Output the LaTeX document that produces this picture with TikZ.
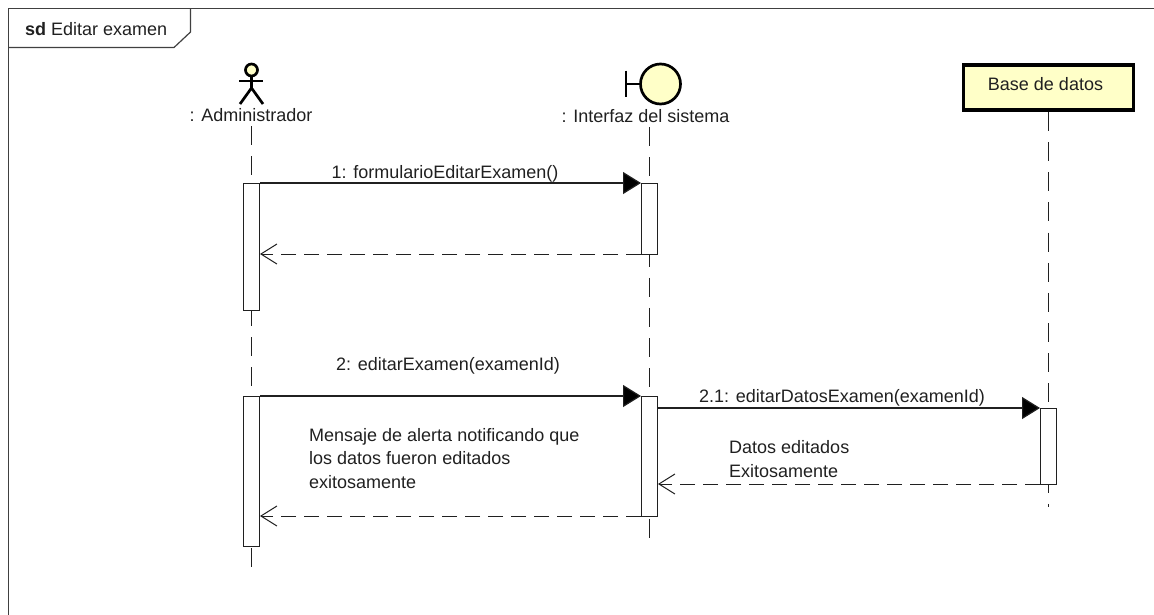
\documentclass[tikz,border=0pt]{standalone}
\usepackage{fontspec}
\setmainfont{Liberation Sans}
\usetikzlibrary{arrows.meta}
\definecolor{ifacecol}{HTML}{FFFFC8}
\definecolor{inkcol}{HTML}{202020}
\definecolor{framecol}{HTML}{404040}
\tikzset{
 lifeline/.style={draw=inkcol,dash pattern=on 19pt off 11.15pt,line width=1pt},
 actbar/.style={draw=inkcol,fill=white,line width=1pt,minimum width=16pt,inner sep=0pt},
 msg/.style={draw=inkcol,line width=1.2pt,-{Triangle[length=18pt,width=22pt,fill=black]}},
 ret/.style={draw=inkcol,line width=1pt,dash pattern=on 15pt off 8pt,-{Straight Barb[length=16pt,width=20pt,line width=1pt]}},
 txt/.style={font=\fontsize{18}{22}\selectfont,inner sep=0pt,text=inkcol},
 multi/.style={font=\fontsize{18}{23.7}\selectfont,inner sep=0pt,text=inkcol,align=left,anchor=north west},
 figline/.style={draw=black,line width=2.7pt},
 frameline/.style={draw=framecol,line width=1.2pt},
}
\begin{document}
\begin{tikzpicture}[x=1pt,y=-1pt]
\useasboundingbox (0,0) rectangle (1154,614);
\draw[frameline] (8.5,8.5) rectangle (1160,620);
\draw[frameline] (8.5,47.5)--(174,47.5)--(190.5,32)--(190.5,8.5);
\node[txt,anchor=west] (ttl) at (25,29.5) {\textbf{sd} Editar examen};
% lifelines
\coordinate (a0) at (251,126); \coordinate (a1) at (251,567);
\coordinate (b0) at (649,127); \coordinate (b1) at (649,538);
\coordinate (c0) at (1048,112); \coordinate (c1) at (1048,507);
\draw[lifeline] (a0)--(a1);
\draw[lifeline] (b0)--(b1);
\draw[lifeline] (c0)--(c1);
% actor
\node[circle,figline,fill=ifacecol,minimum size=12pt,inner sep=0pt] (head) at (251.5,70) {};
\coordinate (hip) at (251.5,88);
\draw[figline] (head.south)--(hip);
\draw[figline] (239,81)--(263,81);
\draw[figline] (240,104)--(hip)--(263,104);
\node[txt] (al) at (251,115) {: Administrador};
% boundary
\node[circle,figline,fill=ifacecol,minimum size=40pt,inner sep=0pt] (bd) at (660.5,84) {};
\draw[figline] (bd.west)--(626,84);
\draw[figline] (626,70.5)--(626,96.5);
\node[txt] (bl) at (645.5,116) {: Interfaz del sistema};
% db
\node[figline,line width=3.2pt,fill=ifacecol,minimum width=170pt,minimum height=45pt,inner sep=0pt] (db) at (1048.3,87.5) {};
\node[txt] (dbl) at (1045.5,84) {Base de datos};
% bars
\node[actbar,minimum height=127pt] (A1) at (251.5,246.5) {};
\node[actbar,minimum height=71pt] (B1) at (649.5,218.5) {};
\node[actbar,minimum height=150pt] (A2) at (251.5,471) {};
\node[actbar,minimum height=120pt] (B2) at (649.5,456) {};
\node[actbar,minimum height=76pt] (C1) at (1048.5,446) {};
\draw[msg] (A1.east|-0,183)--(B1.west|-0,183);
\draw[ret] (B1.west|-0,254)--(A1.east|-0,254);
\draw[msg] (A2.east|-0,396)--(B2.west|-0,396);
\draw[msg] (B2.east|-0,408)--(C1.west|-0,408);
\draw[ret] (C1.west|-0,484)--(B2.east|-0,484);
\draw[ret] (B2.west|-0,516)--(A2.east|-0,516);
\node[txt] (m1) at (445,174) {1: formularioEditarExamen()};
\node[txt] (m2) at (448,366) {2: editarExamen(examenId)};
\node[txt] (m3) at (842,397.5) {2.1: editarDatosExamen(examenId)};
\node[multi] (m4) at (309,428) {Mensaje de alerta notificando que\\los datos fueron editados\\exitosamente};
\node[multi] (m5) at (729,440.5) {Datos editados\\Exitosamente};
\end{tikzpicture}
\end{document}
